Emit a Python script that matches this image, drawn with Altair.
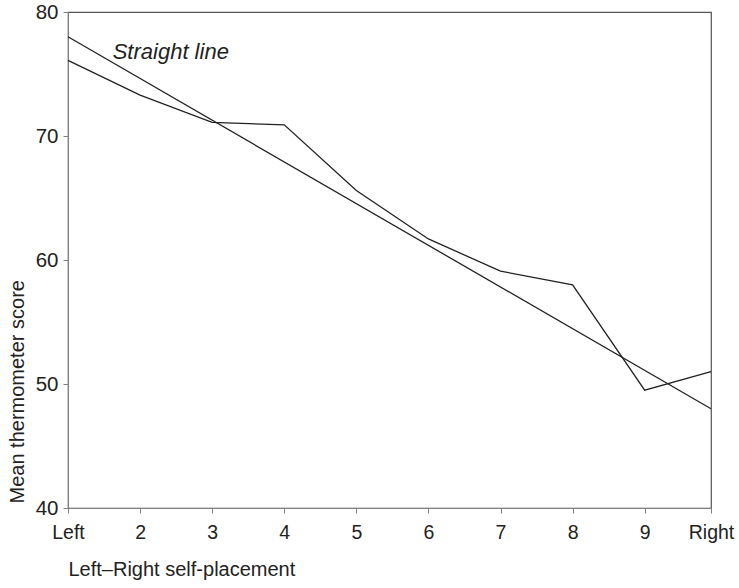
import altair as alt
import pandas as pd

categories = ["Left", "2", "3", "4", "5", "6", "7", "8", "9", "Right"]
positions = [1, 2, 3, 4, 5, 6, 7, 8, 9, 9.92]
mean_scores = [76.1, 73.3, 71.1, 70.9, 65.6, 61.7, 59.1, 58.0, 49.5, 51.0]
straight_x = [1, 9.92]
straight_y = [78.0, 48.0]
y_ticks = [40, 50, 60, 70, 80]
annotation_text = ["Straight line"]
annotation_x = [1.62]
annotation_y = [76.8]

df = pd.DataFrame({"pos": positions, "score": mean_scores, "cat": categories})
sl = pd.DataFrame({"pos": straight_x, "score": straight_y})
ann = pd.DataFrame({"pos": annotation_x, "score": annotation_y, "text": annotation_text})

expr = ""
for p, c in zip(positions, categories):
    expr += f"abs(datum.value - {p}) < 0.001 ? '{c}' : "
expr += "''"

FONT = "Liberation Sans"
AXC = "#808080"

xenc = alt.X(
    "pos:Q",
    scale=alt.Scale(domain=[1, 9.92], nice=False, zero=False),
    axis=alt.Axis(
        values=positions, labelExpr=expr, title="Left–Right self-placement",
        grid=False, domainColor=AXC, tickColor=AXC, tickSize=5,
        labelFontSize=19.5, labelColor="#222", labelPadding=10,
        titleFontSize=20, titleFontWeight="normal", titleColor="#222",
        titleX=0, titleY=61, titleAlign="left", titleBaseline="middle",
        labelFlush=False,
    ),
)
yenc = alt.Y(
    "score:Q",
    scale=alt.Scale(domain=[40, 80], nice=False, zero=False),
    axis=alt.Axis(
        values=y_ticks, title="Mean thermometer score", grid=False,
        domainColor=AXC, tickColor=AXC, tickSize=5,
        labelFontSize=20.5, labelColor="#222", labelPadding=5,
        titleFontSize=20, titleFontWeight="normal", titleColor="#222",
        titleX=-45, titleY=491, titleAlign="left", titleAngle=-90,
        titleBaseline="alphabetic", labelFlush=False,
    ),
)

jagged = alt.Chart(df).mark_line(color="#222", strokeWidth=1.3).encode(x=xenc, y=yenc)
straight = alt.Chart(sl).mark_line(color="#222", strokeWidth=1.3).encode(x="pos:Q", y="score:Q")
label = alt.Chart(ann).mark_text(
    align="left", baseline="middle", fontStyle="italic", fontSize=22, color="#222", font=FONT
).encode(x="pos:Q", y="score:Q", text="text:N")

chart = (
    alt.layer(jagged, straight, label)
    .properties(
        width=643, height=496,
        autosize=alt.AutoSizeParams(type="none"),
        padding={"left": 68, "top": 12, "right": 28, "bottom": 80},
        background="white",
    )
    .configure(font=FONT)
    .configure_view(stroke="#555", strokeWidth=1.2)
)

chart.save("out.html", embed_options={"renderer": "svg", "actions": False})
